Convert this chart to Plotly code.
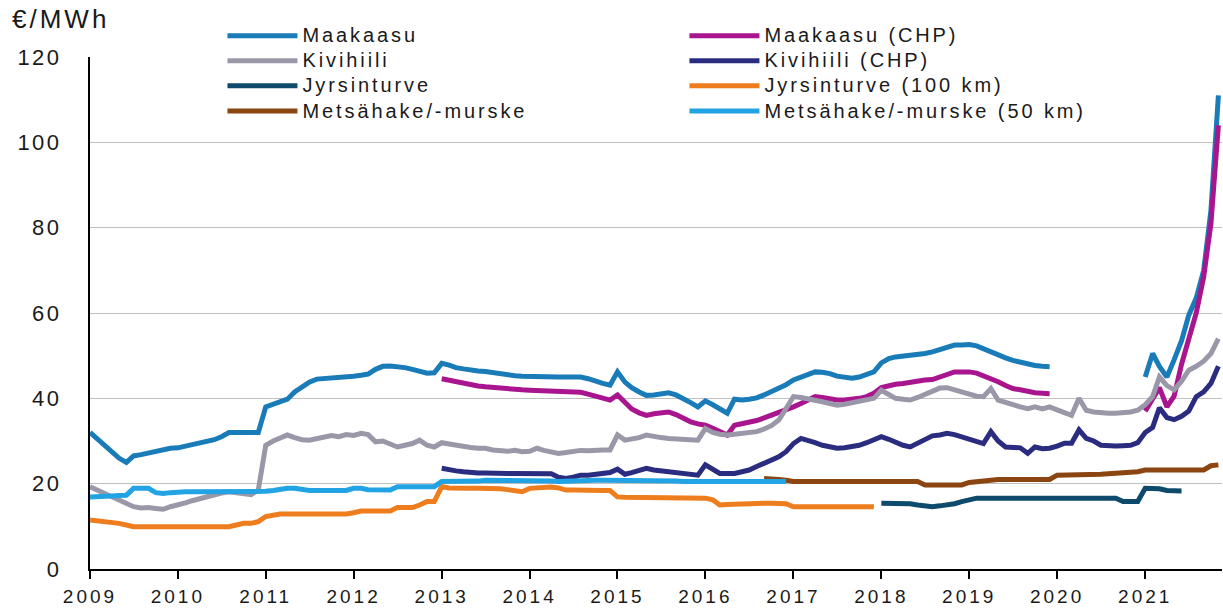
import pandas as pd
import plotly.graph_objects as go

N = None
months = pd.date_range("2009-01-01", "2021-11-01", freq="MS")

maakaasu = [
    32, 30.5, 29, 27.5, 26, 25, 26.5, 26.8, 27.2, 27.6, 28, 28.3,
    28.4, 28.8, 29.2, 29.6, 30, 30.3, 31, 32, 32, 32, 32, 32,
    38, 38.7, 39.3, 39.8, 41.5, 42.8, 43.8, 44.5, 44.6, 44.7, 44.8, 45,
    45.2, 45.4, 45.7, 46.8, 47.5, 47.6, 47.5, 47.2, 46.8, 46.3, 45.9, 46,
    48.2, 47.8, 47.2, 46.9, 46.6, 46.4, 46.3, 46, 45.7, 45.5, 45.3, 45.2,
    45.1, 45, 45, 45, 45, 45, 45, 45, 44.6, 44, 43.5, 43.1,
    46.2, 43.8, 42.5, 41.5, 40.7, 40.8, 41, 41.3, 40.8, 40, 39, 38,
    39.4, 38.5, 37.5, 36.5, 39.8, 39.6, 39.8, 40.1, 40.8, 41.5, 42.3, 43.2,
    44.3, 45, 45.6, 46.2, 46.1, 45.8, 45.2, 44.8, 44.7, 45, 45.6, 46.2,
    48.3, 49.3, 49.7, 49.9, 50, 50.1, 50.5, 50.9, 51.4, 52, 52.5, 52.5,
    52.6, 52.3, 51.6, 50.9, 50.2, 49.5, 48.9, 48.4, 48, 47.7, 47.5, 47.4,
    N, N, N, N, N, N, N, N, N, N, N, N,
    45, 50.5, 47.5, 45, 49, 53.5, 59.5, 63.5, 70, 84, 111,
]

maakaasu_chp = [
    N, N, N, N, N, N, N, N, N, N, N, N,
    N, N, N, N, N, N, N, N, N, N, N, N,
    N, N, N, N, N, N, N, N, N, N, N, N,
    N, N, N, N, N, N, N, N, N, N, N, N,
    44.6, 44.2, 43.8, 43.4, 43.1, 42.9, 42.7, 42.5, 42.4, 42.3, 42.1, 42,
    41.9, 41.8, 41.7, 41.6, 41.6, 41.5, 41.5, 41.4, 41, 40.5, 40, 39.6,
    40.8, 39, 37.5, 36.6, 36, 36.4, 36.7, 36.8, 36.2, 35.3, 34.5, 34,
    33.7, 33, 32.2, 31.4, 33.7, 34, 34.4, 34.8, 35.4, 36, 36.6, 37.2,
    38, 38.8, 39.6, 40.4, 40.2, 39.8, 39.6, 39.6, 39.7, 40, 40.4, 41.2,
    42.5, 43, 43.3, 43.5, 43.8, 44.1, 44.3, 44.4, 45, 45.7, 46.2, 46.2,
    46.2, 45.9, 45.3, 44.7, 43.9, 43, 42.3, 42, 41.6, 41.3, 41.2, 41.1,
    N, N, N, N, N, N, N, N, N, N, N, N,
    37, 40, 42.5, 38, 40.5, 48, 54, 60, 68.5, 81, 104,
]

kivihiili = [
    19.3, 18.5, 17.8, 17, 16.2, 15.3, 14.6, 14.3, 14.4, 14.2, 14, 14.6,
    15.2, 15.5, 16, 16.5, 17, 17.3, 17.8, 18.1, 17.9, 17.5, 17.4, 18.5,
    29, 30, 30.8, 31.4, 30.8, 30.3, 30.2, 30.6, 31, 31.3, 31, 31.5,
    31.3, 31.8, 31.5, 29.8, 30, 29.2, 28.6, 29, 29.4, 30.2, 29, 28.6,
    29.6, 29.3, 29, 28.6, 28.5, 28.3, 28.3, 27.9, 27.8, 27.6, 27.8, 27.5,
    27.6, 28.3, 27.8, 27.4, 27.1, 27.3, 27.5, 27.8, 27.7, 27.9, 27.9, 27.9,
    31.4, 30.2, 30.4, 30.8, 31.4, 31, 30.8, 30.6, 30.5, 30.4, 30.3, 30.2,
    32.9, 32, 31.6, 31.4, 31.6, 31.9, 32, 32.2, 32.8, 33.6, 34.9, 37.5,
    40.4, 40.2, 39.8, 39.6, 39.2, 38.8, 38.4, 38.6, 38.9, 39.2, 39.6, 40,
    41.9, 40.8, 40, 39.8, 39.6, 40.2, 41, 41.8, 42.4, 42.5, 42, 41.5,
    41, 40.5, 40.4, 42.3, 39.6, 39, 38.5, 38, 37.6, 38, 37.5, 38,
    37.3, 36.5, 36, 40, 37.2, 36.8, 36.6, 36.5, 36.5, 36.6, 36.8, 37.2,
    38.5, 40.4, 45, 43, 42, 44, 46.6, 47.5, 48.7, 50.5, 54,
]

kivihiili_chp = [
    N, N, N, N, N, N, N, N, N, N, N, N,
    N, N, N, N, N, N, N, N, N, N, N, N,
    N, N, N, N, N, N, N, N, N, N, N, N,
    N, N, N, N, N, N, N, N, N, N, N, N,
    23.6, 23.2, 23, 22.8, 22.6, 22.5, 22.5, 22.4, 22.4, 22.4, 22.4, 22.4,
    22.4, 22.4, 22.5, 22.3, 21.5, 21.2, 21.5, 22, 22, 22.2, 22.4, 22.6,
    23.4, 22.2, 22.6, 23.2, 23.6, 23.2, 23, 23, 22.8, 22.5, 22.3, 22,
    24.4, 23.5, 22.4, 22.4, 22.4, 22.8, 23.2, 24, 24.7, 25.5, 26.3, 27.5,
    29.4, 30.6, 30.2, 29.6, 29, 28.7, 28.3, 28.4, 28.6, 29, 29.6, 30.2,
    31, 30.4, 29.6, 29, 28.6, 29.5, 30.5, 31.2, 31.4, 31.8, 31.5, 31,
    30.4, 29.8, 29.4, 32.2, 30, 28.6, 28.6, 28.4, 27.1, 28.6, 28.2, 28.3,
    28.8, 29.5, 29.5, 32.6, 30.6, 30, 29, 28.8, 28.8, 28.9, 29, 29.6,
    32, 33.2, 37.8, 35.5, 35, 35.8, 37, 40.4, 41.5, 43.5, 47.5,
]

jyrsinturve = [
    N, N, N, N, N, N, N, N, N, N, N, N,
    N, N, N, N, N, N, N, N, N, N, N, N,
    N, N, N, N, N, N, N, N, N, N, N, N,
    N, N, N, N, N, N, N, N, N, N, N, N,
    N, N, N, N, N, N, N, N, N, N, N, N,
    N, N, N, N, N, N, N, N, N, N, N, N,
    N, N, N, N, N, N, N, N, N, N, N, N,
    N, N, N, N, N, N, N, N, N, N, N, N,
    N, N, N, N, N, N, N, N, N, N, N, N,
    15.4, 15.4, 15.4, 15.4, 15.3, 15, 14.7, 14.6, 14.8, 15, 15.3, 15.8,
    16.2, 16.6, 16.6, 16.6, 16.6, 16.6, 16.6, 16.6, 16.6, 16.6, 16.6, 16.6,
    16.6, 16.6, 16.6, 16.6, 16.6, 16.6, 16.6, 16.6, 16.6, 15.8, 15.8, 15.8,
    18.9, 18.9, 18.8, 18.4, 18.3, 18.3, N, N, N, N, N,
]

jyrsinturve_100 = [
    11.5, 11.3, 11.1, 11.1, 10.7, 10.3, 9.9, 9.9, 9.9, 9.9, 9.9, 9.9,
    9.9, 9.9, 9.9, 9.9, 9.9, 9.9, 9.9, 9.9, 10.3, 10.7, 10.7, 11.1,
    12.3, 12.6, 12.9, 12.9, 12.9, 12.9, 12.9, 12.9, 12.9, 12.9, 12.9, 12.9,
    13.2, 13.6, 13.6, 13.6, 13.6, 13.6, 14.4, 14.4, 14.4, 15, 15.8, 15.8,
    19.3, 19, 18.9, 18.9, 18.9, 18.9, 18.9, 18.9, 18.8, 18.6, 18.4, 18.1,
    18.9, 19.1, 19.2, 19.2, 19, 18.5, 18.5, 18.4, 18.4, 18.4, 18.4, 18.4,
    16.9, 16.8, 16.8, 16.8, 16.7, 16.7, 16.7, 16.6, 16.6, 16.6, 16.6, 16.6,
    16.6, 16.2, 15, 15.1, 15.2, 15.2, 15.3, 15.3, 15.4, 15.4, 15.4, 15.3,
    14.6, 14.6, 14.6, 14.6, 14.6, 14.6, 14.6, 14.6, 14.6, 14.6, 14.6, 14.6,
    N, N, N, N, N, N, N, N, N, N, N, N,
    N, N, N, N, N, N, N, N, N, N, N, N,
    N, N, N, N, N, N, N, N, N, N, N, N,
    N, N, N, N, N, N, N, N, N, N, N,
]

metsahake = [
    N, N, N, N, N, N, N, N, N, N, N, N,
    N, N, N, N, N, N, N, N, N, N, N, N,
    N, N, N, N, N, N, N, N, N, N, N, N,
    N, N, N, N, N, N, N, N, N, N, N, N,
    N, N, N, N, N, N, N, N, N, N, N, N,
    N, N, N, N, N, N, N, N, N, N, N, N,
    N, N, N, N, N, N, N, N, N, N, N, N,
    N, N, N, N, N, N, N, N, 21.2, 21.2, 21, 20.8,
    20.5, 20.5, 20.5, 20.5, 20.5, 20.5, 20.5, 20.5, 20.5, 20.5, 20.5, 20.5,
    20.5, 20.5, 20.5, 20.5, 20.5, 20.5, 19.7, 19.7, 19.7, 19.7, 19.7, 19.7,
    20.3, 20.5, 20.7, 21, 21, 21, 21, 21, 21, 21, 21, 21,
    22, 22, 22, 22, 22.1, 22.2, 22.2, 22.3, 22.4, 22.6, 22.8, 22.8,
    23.2, 23.2, 23.2, 23.2, 23.2, 23.2, 23.2, 23.2, 23.2, 24.2, 24.4,
]

metsahake_50 = [
    16.9, 16.9, 17, 17.1, 17.2, 17.3, 18.9, 18.9, 18.9, 17.9, 17.7, 17.9,
    18.1, 18.1, 18.1, 18.1, 18.1, 18.1, 18.1, 18.1, 18.1, 18.1, 18.1, 18.1,
    18.2, 18.4, 18.7, 18.9, 18.9, 18.6, 18.4, 18.4, 18.4, 18.4, 18.4, 18.4,
    18.9, 18.9, 18.6, 18.5, 18.5, 18.5, 19.3, 19.3, 19.3, 19.3, 19.3, 19.3,
    20.5, 20.5, 20.5, 20.5, 20.6, 20.6, 20.8, 20.8, 20.8, 20.8, 20.8, 20.8,
    20.8, 20.8, 20.8, 20.6, 20.5, 20.6, 20.8, 20.8, 20.8, 20.8, 20.8, 20.8,
    20.8, 20.8, 20.8, 20.8, 20.8, 20.8, 20.6, 20.6, 20.6, 20.5, 20.5, 20.5,
    20.5, 20.5, 20.5, 20.5, 20.5, 20.5, 20.5, 20.5, 20.5, 20.5, 20.5, 20.5,
    N, N, N, N, N, N, N, N, N, N, N, N,
    N, N, N, N, N, N, N, N, N, N, N, N,
    N, N, N, N, N, N, N, N, N, N, N, N,
    N, N, N, N, N, N, N, N, N, N, N, N,
    N, N, N, N, N, N, N, N, N, N, N,
]

series_names = [
    "Maakaasu", "Maakaasu (CHP)",
    "Kivihiili", "Kivihiili (CHP)",
    "Jyrsinturve", "Jyrsinturve (100 km)",
    "Metsähake/-murske", "Metsähake/-murske (50 km)",
]
series_values = [
    maakaasu, maakaasu_chp, kivihiili, kivihiili_chp,
    jyrsinturve, jyrsinturve_100, metsahake, metsahake_50,
]
series_colors = [
    "#1A7BB9", "#A8158E", "#9A98A8", "#2A2C80",
    "#0E4A6B", "#EE7D1E", "#8A4511", "#22A4E4",
]

x_tick_years = list(range(2009, 2022))
y_tick_values = [0, 20, 40, 60, 80, 100, 120]
y_title = "€/MWh"

FONT = "Arial, Liberation Sans, sans-serif"
TXT = "#1a1a1a"


def spaced(text, px, size=None):
    style = f"letter-spacing:{px}px"
    if size:
        style += f";font-size:{size}px"
    return f'<span style="{style}">{text}</span>'


fig = go.Figure()
for name, vals, col in zip(series_names, series_values, series_colors):
    fig.add_trace(go.Scatter(
        x=months, y=vals, name=spaced(name, 2.9, 20), mode="lines",
        line=dict(color=col, width=5),
        connectgaps=False,
    ))

fig.update_layout(
    width=1223, height=608,
    margin=dict(l=90, r=1, t=57, b=39, autoexpand=False),
    paper_bgcolor="white", plot_bgcolor="white",
    font=dict(family=FONT, color=TXT, size=20),
    showlegend=True,
    legend=dict(
        orientation="h", entrywidth=377, entrywidthmode="pixels",
        x=0.117, xanchor="left", y=1.076, yanchor="top",
        bgcolor="white", font=dict(size=17, family=FONT, color=TXT),
        itemwidth=70, tracegroupgap=0,
    ),
    xaxis=dict(
        type="date", range=["2009-01-01", "2021-11-16"],
        tickvals=[f"{y}-01-01" for y in x_tick_years],
        ticktext=[spaced(str(y), 3) for y in x_tick_years],
        showgrid=False, zeroline=False,
        showline=True, linecolor="black", linewidth=2,
        ticks="outside", ticklen=8, tickcolor="black", tickwidth=1.5,
        tickfont=dict(size=19, family=FONT, color=TXT),
        ticklabelstandoff=1, automargin=False,
    ),
    yaxis=dict(
        range=[0, 120],
        tickvals=y_tick_values,
        ticktext=[spaced(str(v), 2.5) for v in y_tick_values],
        showgrid=True, gridcolor="#C0C0C0", gridwidth=1.2,
        zeroline=False, showline=True, linecolor="black", linewidth=2,
        ticks="", tickfont=dict(size=22, family=FONT, color=TXT),
        ticklabelstandoff=22, automargin=False,
    ),
    annotations=[dict(
        text=spaced(y_title, 3), xref="paper", yref="paper",
        x=-0.071, y=1.075, xanchor="left", yanchor="middle",
        showarrow=False, font=dict(size=26, family=FONT, color=TXT),
    )],
)

fig.write_html(
    "out.html",
    config={"displayModeBar": False},
    post_script="document.body.style.margin='0';",
)
